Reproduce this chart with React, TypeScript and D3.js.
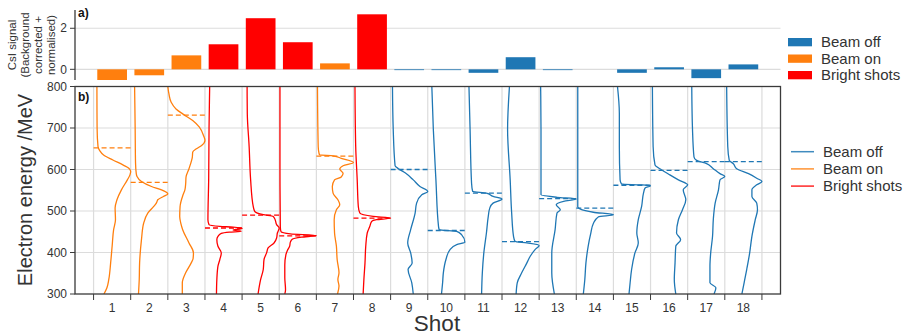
import React from "react";
import * as d3 from "d3";

// Shot numbers and classification
const shots = [1, 2, 3, 4, 5, 6, 7, 8, 9, 10, 11, 12, 13, 14, 15, 16, 17, 18];
const shotType = ["on", "on", "on", "bright", "bright", "bright", "on", "bright",
  "off", "off", "off", "off", "off", "off", "off", "off", "off", "off"];

// CsI signal (background corrected + normalised)
const csiSignal = [-0.53, -0.29, 0.68, 1.22, 2.49, 1.32, 0.29, 2.68,
  -0.02, -0.02, -0.17, 0.59, -0.02, 0, -0.17, 0.1, -0.43, 0.24];

// Peak / cut-off energy for each shot (MeV)
const peakEnergy = [652, 569, 731, 459, 490, 440, 632, 483, 600, 453, 543, 426, 530, 507, 562, 598, 619, 619];

const energyTicks = [300, 400, 500, 600, 700, 800];
const signalTicks = [0, 2];

// Normalised spectra per shot: [energy MeV, normalised intensity]
const spec1 = [[800,0.09],[700,0.095],[655,0.12],[645,0.17],[635,0.27],[623,0.52],[611,0.79],[603,0.95],[595,1.0],[587,0.98],[575,0.91],[551,0.75],[527,0.63],[507,0.58],[479,0.59],[455,0.54],[415,0.5],[375,0.46],[335,0.41],[315,0.36],[300,0.28]];
const spec2 = [[800,0.105],[700,0.12],[616,0.13],[590,0.15],[583,0.17],[571,0.29],[559,0.56],[551,0.83],[543,0.99],[541,1.0],[535,0.88],[527,0.73],[523,0.71],[519,0.69],[511,0.62],[495,0.46],[471,0.35],[431,0.29],[375,0.24],[335,0.23],[300,0.21]];
const spec3 = [[800,0.0],[782,0.03],[762,0.09],[746,0.22],[734,0.4],[718,0.67],[702,0.85],[682,0.96],[670,1.0],[658,0.91],[650,0.77],[642,0.67],[630,0.66],[622,0.64],[602,0.57],[582,0.49],[565,0.48],[551,0.46],[539,0.41],[511,0.33],[487,0.32],[470,0.35],[455,0.4],[423,0.57],[399,0.69],[385,0.68],[375,0.63],[351,0.48],[327,0.39],[300,0.39]];
const spec4 = [[800,0.127],[700,0.11],[575,0.1],[479,0.08],[467,0.11],[463,0.4],[461,0.76],[458,1.0],[454,0.76],[451,0.98],[449,0.66],[446,0.44],[439,0.35],[431,0.32],[415,0.35],[399,0.44],[383,0.4],[367,0.35],[335,0.32],[300,0.31]];
const spec5 = [[800,0.135],[735,0.14],[655,0.19],[575,0.23],[511,0.3],[499,0.34],[491,0.57],[487,0.84],[479,0.89],[467,0.93],[459,1.0],[447,0.95],[435,0.93],[423,0.86],[411,0.7],[399,0.66],[383,0.59],[359,0.57],[335,0.5],[300,0.43]];
const spec6 = [[800,0.02],[600,0.02],[460,0.03],[450,0.05],[445,0.3],[441,1.0],[437,0.6],[432,0.35],[425,0.3],[415,0.28],[405,0.22],[395,0.18],[370,0.15],[340,0.15],[310,0.17],[300,0.15]];
const spec7 = [[800,0.03],[655,0.05],[640,0.07],[635,0.09],[633,0.45],[627,0.67],[617,1.0],[609,0.72],[601,0.63],[591,0.72],[582,0.67],[575,0.49],[559,0.43],[543,0.45],[527,0.58],[515,0.63],[503,0.54],[479,0.48],[447,0.49],[415,0.54],[383,0.56],[351,0.61],[335,0.58],[319,0.61],[300,0.57]];
const spec8 = [[800,0.04],[655,0.06],[575,0.1],[511,0.13],[495,0.17],[487,0.53],[483,1.0],[479,0.62],[475,0.49],[463,0.44],[447,0.37],[415,0.33],[375,0.31],[335,0.28],[300,0.26]];
const spec9 = [[800,0.05],[697,0.07],[609,0.12],[602,0.21],[592,0.39],[575,0.61],[559,0.79],[547,1.0],[539,0.84],[519,0.7],[495,0.66],[455,0.54],[423,0.46],[399,0.54],[375,0.58],[359,0.47],[327,0.57],[300,0.61]];
const spec10 = [[800,0.11],[697,0.15],[575,0.22],[463,0.29],[455,0.31],[451,0.78],[443,0.91],[425,1.0],[419,0.78],[407,0.6],[383,0.49],[351,0.42],[327,0.4],[300,0.37]];
const spec11 = [[800,0.11],[697,0.14],[567,0.18],[547,0.21],[543,0.58],[535,0.76],[529,1.0],[519,0.76],[507,0.67],[487,0.63],[447,0.58],[399,0.51],[351,0.47],[300,0.45]];
const spec12 = [[800,0.2],[697,0.15],[575,0.22],[495,0.26],[439,0.31],[427,0.35],[423,0.67],[417,1.0],[407,0.89],[391,0.76],[375,0.67],[351,0.53],[327,0.41],[300,0.38]];
const spec13 = [[800,0.04],[697,0.05],[539,0.05],[533,0.48],[529,1.0],[523,0.66],[515,0.46],[503,0.57],[495,0.48],[455,0.43],[399,0.34],[351,0.34],[300,0.41]];
const spec14 = [[800,0.04],[510,0.04],[505,0.1],[497,0.46],[491,1.0],[486,0.6],[470,0.46],[446,0.39],[415,0.32],[375,0.26],[335,0.23],[300,0.19]];
const spec15 = [[800,0.11],[735,0.16],[655,0.16],[575,0.18],[565,0.22],[563,0.72],[561,1.0],[555,0.85],[543,0.81],[511,0.76],[479,0.67],[447,0.63],[423,0.67],[399,0.58],[359,0.49],[327,0.45],[300,0.42]];
const spec16 = [[800,0.05],[655,0.07],[611,0.12],[599,0.3],[587,0.52],[575,0.75],[563,1.0],[551,0.88],[527,0.95],[503,0.86],[479,0.75],[447,0.7],[431,0.81],[415,0.68],[375,0.66],[335,0.64],[300,0.68]];
const spec17 = [[800,0.11],[697,0.13],[630,0.17],[622,0.24],[614,0.51],[602,0.69],[590,0.87],[583,1.0],[575,0.87],[551,0.83],[519,0.74],[479,0.69],[439,0.67],[399,0.62],[367,0.6],[327,0.6],[315,0.76],[300,0.71]];
const spec18 = [[800,0.05],[655,0.08],[622,0.12],[614,0.23],[602,0.32],[590,0.64],[579,0.86],[571,1.0],[563,0.86],[551,0.73],[535,0.73],[519,0.86],[503,0.88],[479,0.82],[439,0.73],[399,0.67],[359,0.59],[327,0.52],[300,0.46]];
const spectra = [spec1, spec2, spec3, spec4, spec5, spec6, spec7, spec8, spec9,
  spec10, spec11, spec12, spec13, spec14, spec15, spec16, spec17, spec18];

const legendKeys = ["off", "on", "bright"];
const legendLabels = ["Beam off", "Beam on", "Bright shots"];

const colors: Record<string, string> = { off: "#1f77b4", on: "#ff7f0e", bright: "#ff0000" };

const W = 907;
const H = 333;
const FONT = "'Liberation Sans', Arial, sans-serif";
const TEXT = "#333";
const GRID = "#dcdcdc";
const SPINE = "#3a3a3a";

export default function App() {
  const left = 75;
  const right = 780.5;

  const x = d3.scaleLinear().domain([-0.5, 18.5]).range([left, right]);

  // panel a
  const aTop = 10;
  const aBottom = 80;
  const ya = d3.scaleLinear().domain([-0.52, 2.89]).range([aBottom, aTop]);

  // panel b
  const bTop = 86.5;
  const bBottom = 294;
  const yb = d3.scaleLinear().domain([300, 800]).range([bBottom, bTop]);

  const boundaries = d3.range(0, 19);
  const barW = x(0.8) - x(0);

  const lineFor = (shot: number) =>
    d3.line<number[]>()
      .x((d) => x(shot - 1 + d[1]))
      .y((d) => yb(d[0]))
      .curve(d3.curveMonotoneY);

  const aYLabelLines = ["CsI signal", "(Background", "corrected +", "normalised)"];

  return (
    <svg width={W} height={H} style={{ position: "absolute", left: 0, top: 0, background: "#fff" }}
      fontFamily={FONT}>
      <defs>
        <clipPath id="clipA"><rect x={left} y={aTop} width={right - left} height={aBottom - aTop} /></clipPath>
        <clipPath id="clipB"><rect x={left} y={bTop} width={right - left} height={bBottom - bTop} /></clipPath>
      </defs>

      {/* ---------- panel a ---------- */}
      {signalTicks.map((t) => (
        <g key={"ga" + t}>
          <line x1={left} x2={right} y1={ya(t)} y2={ya(t)} stroke={GRID} strokeWidth={1.2} />
          <line x1={left - 5} x2={left} y1={ya(t)} y2={ya(t)} stroke={SPINE} strokeWidth={1} />
          <text x={left - 8} y={ya(t)} dy="0.35em" textAnchor="end" fontSize={12} fill={TEXT}>{t}</text>
        </g>
      ))}
      <g clipPath="url(#clipA)">
        {shots.map((s, i) => {
          const v = csiSignal[i];
          const y0 = ya(0);
          const y1 = ya(v);
          return (
            <rect key={"bar" + s} x={x(s - 0.5) - barW / 2} width={barW}
              y={Math.min(y0, y1)} height={Math.max(Math.abs(y1 - y0), v === 0 ? 0 : 0.8)}
              fill={colors[shotType[i]]} />
          );
        })}
      </g>
      <line x1={left} x2={left} y1={aTop} y2={aBottom} stroke={SPINE} strokeWidth={1.3} />
      <text x={78} y={17} fontSize={12} fontWeight="bold" fill="#111">a)</text>
      <g fontSize={11.5} fill={TEXT} textAnchor="middle">
        {aYLabelLines.map((l, i) => (
          <text key={l} transform={`translate(${16 + i * 13},45) rotate(-90)`}>{l}</text>
        ))}
      </g>

      {/* legend a */}
      {legendKeys.map((k, i) => (
        <g key={"la" + k}>
          <rect x={788} y={38 + i * 16.5} width={24} height={8.3} fill={colors[k]} />
          <text x={821} y={42.2 + i * 16.5} dy="0.35em" fontSize={15} fill={TEXT}>{legendLabels[i]}</text>
        </g>
      ))}

      {/* ---------- panel b ---------- */}
      {energyTicks.map((t) => (
        <g key={"gb" + t}>
          {t > 300 && t < 800 && (
            <line x1={left} x2={right} y1={yb(t)} y2={yb(t)} stroke={GRID} strokeWidth={1.2} />
          )}
          <line x1={left - 5} x2={left} y1={yb(t)} y2={yb(t)} stroke={SPINE} strokeWidth={1} />
          <text x={left - 8} y={yb(t)} dy="0.35em" textAnchor="end" fontSize={12} fill={TEXT}>{t}</text>
        </g>
      ))}
      {boundaries.map((b) => (
        <g key={"vb" + b}>
          <line x1={x(b)} x2={x(b)} y1={bTop} y2={bBottom} stroke={GRID} strokeWidth={1.2} />
          <line x1={x(b)} x2={x(b)} y1={bBottom} y2={bBottom + 6} stroke={SPINE} strokeWidth={1} />
        </g>
      ))}
      {shots.map((s) => (
        <text key={"xt" + s} x={x(s - 0.5)} y={311.5} textAnchor="middle" fontSize={12} fill={TEXT}>{s}</text>
      ))}

      <g clipPath="url(#clipB)">
        {shots.map((s, i) => (
          <g key={"sp" + s}>
            <path d={lineFor(s)(spectra[i] as number[][]) || ""} fill="none"
              stroke={colors[shotType[i]]} strokeWidth={1.3} strokeLinejoin="round" />
            <line x1={x(s - 1)} x2={x(s)} y1={yb(peakEnergy[i])} y2={yb(peakEnergy[i])}
              stroke={colors[shotType[i]]} strokeWidth={1.3} strokeDasharray="5,3" />
          </g>
        ))}
      </g>

      <rect x={left} y={bTop} width={right - left} height={bBottom - bTop} fill="none"
        stroke={SPINE} strokeWidth={1.3} />
      <text x={78} y={101} fontSize={12} fontWeight="bold" fill="#111">b)</text>

      <text transform={`translate(32,190) rotate(-90)`} textAnchor="middle" fontSize={20} fill={TEXT}>
        Electron energy /MeV
      </text>
      <text x={437} y={330.5} textAnchor="middle" fontSize={22.5} fill={TEXT}>Shot</text>

      {/* legend b */}
      {legendKeys.map((k, i) => (
        <g key={"lb" + k}>
          <line x1={791} x2={814} y1={151.7 + i * 17.2} y2={151.7 + i * 17.2}
            stroke={colors[k]} strokeOpacity={0.85} strokeWidth={1.5} />
          <text x={823} y={151.7 + i * 17.2} dy="0.35em" fontSize={15} fill={TEXT}>{legendLabels[i]}</text>
        </g>
      ))}
    </svg>
  );
}
